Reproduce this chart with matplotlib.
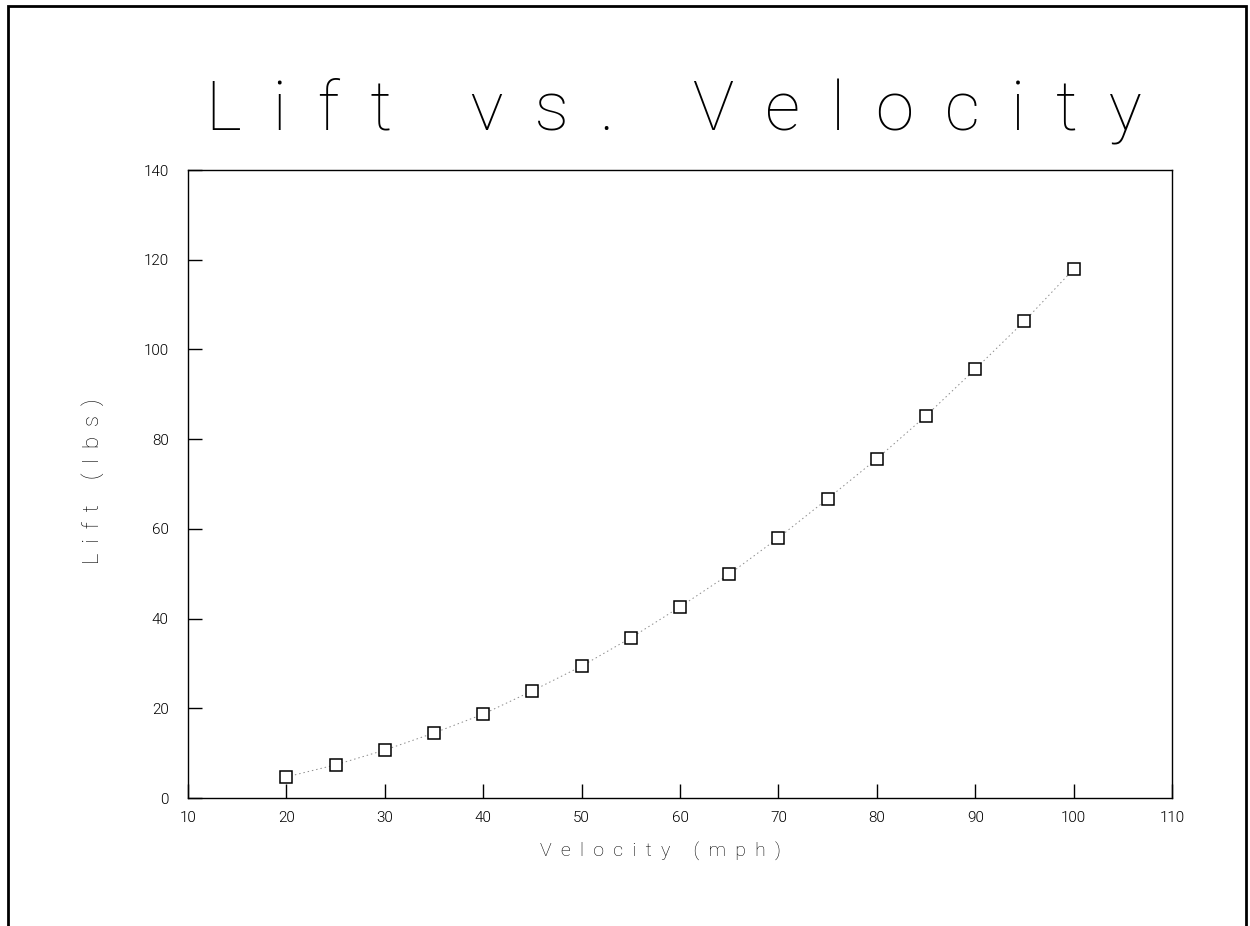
import matplotlib
matplotlib.use('Agg')
import matplotlib.pyplot as plt
from matplotlib.patches import Rectangle

#---- Data -------------------------------------------------------------------#

velocity = [20, 25, 30, 35, 40, 45, 50, 55, 60, 65, 70, 75, 80, 85, 90, 95, 100]
lift = [4.7, 7.4, 10.7, 14.5, 18.7, 23.9, 29.4, 35.7, 42.6, 49.9,
        58.0, 66.7, 75.6, 85.2, 95.6, 106.3, 117.9]

xticks = [10, 20, 30, 40, 50, 60, 70, 80, 90, 100, 110]
yticks = [0, 20, 40, 60, 80, 100, 120, 140]

title = 'Lift vs. Velocity'
xlabel = 'Velocity (mph)'
ylabel = 'Lift (lbs)'

#---- Helpers ----------------------------------------------------------------#

def spaced(s, gap):
    """Wide letter spacing, like the old plotter font"""
    return gap.join(s)

#---- Plotting ---------------------------------------------------------------#

plt.rcParams['font.family'] = ['Roboto', 'DejaVu Sans']
thin = 100

fig = plt.figure(figsize=(12.5, 9.26), dpi=100)
ax = fig.add_axes([0.1504, 0.1382, 0.7872, 0.6782])

ax.plot(velocity, lift, color='0.55', lw=0.7, ls=(0, (1.5, 3)))
ax.plot(velocity, lift, ls='none', marker='s', ms=8, mfc='white',
        mec='black', mew=1.1)

ax.set_xlim(10, 110)
ax.set_ylim(0, 140)
ax.set_xticks(xticks)
ax.set_yticks(yticks)
ax.tick_params(direction='in', length=10, width=1, labelsize=11)
ax.tick_params(axis='x', pad=9)
ax.tick_params(axis='y', pad=14)
for lab in ax.get_xticklabels() + ax.get_yticklabels():
    lab.set_fontweight(300)
for sp in ax.spines.values():
    sp.set_linewidth(1)

ax.set_xlabel(spaced(xlabel, '  '), fontsize=14, fontweight=thin)
ax.xaxis.set_label_coords(0.48, -0.07)
ax.set_ylabel(spaced(ylabel, ' \u2009'), fontsize=16, fontweight=thin)
ax.yaxis.set_label_coords(-0.085, 0.505)

fig.text(0.539, 1 - 129 / 926, spaced(title, ' \u2009'),
         ha='center', va='baseline', fontsize=50, fontweight=thin)

# border round the page
fig.patches.append(Rectangle((0.006, -0.01), 0.991, 1.004, transform=fig.transFigure,
                             fill=False, ec='black', lw=2))

plt.savefig('out.png', dpi=100)
